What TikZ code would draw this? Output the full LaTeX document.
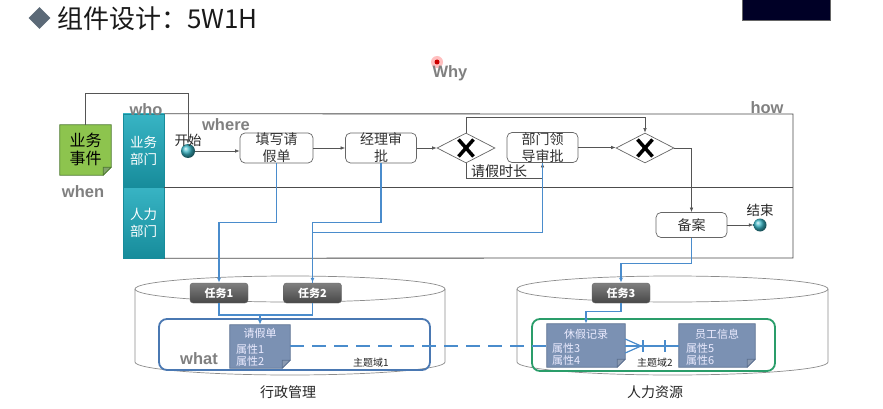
\documentclass[tikz,border=0pt]{standalone}
\usepackage{fontspec}
\setmainfont{Noto Sans CJK SC}
\newfontfamily\labfont{Liberation Sans}
\usetikzlibrary{shapes.geometric,arrows.meta,calc}
\definecolor{flowgray}{HTML}{555555}
\definecolor{bluel}{HTML}{4A8CCC}
\definecolor{docfill}{HTML}{7B91B3}
\definecolor{docdraw}{HTML}{5A6F90}
\definecolor{evfill}{HTML}{8DC44E}
\definecolor{evdraw}{HTML}{4D7A2D}
\definecolor{hdrtop}{HTML}{38B4C4}
\definecolor{hdrbot}{HTML}{178C9B}
\definecolor{domblue}{HTML}{4A78B2}
\definecolor{domgreen}{HTML}{2A9D6A}
\definecolor{titlegray}{HTML}{5B6977}
\newcommand\drawdoc[3]{%
  \filldraw[fill=#2,draw=#3,line width=0.8pt] (#1.north west) -- (#1.north east) -- ([yshift=8pt]#1.south east) -- ([xshift=-8pt]#1.south east) -- (#1.south west) -- cycle;
  \filldraw[fill=#3!70!white,draw=#3,line width=0.6pt] ([yshift=8pt]#1.south east) -- ([xshift=-8pt]#1.south east) -- ([xshift=-8pt,yshift=8pt]#1.south east) -- cycle;}
\begin{document}
\begin{tikzpicture}[x=1pt,y=-1pt,
  flow/.style={draw=flowgray, line width=0.6pt, -{Latex[length=4.5pt,width=3.5pt]}},
  bflow/.style={draw=bluel, line width=1.3pt, -{Latex[length=5pt,width=4pt]}},
  bline/.style={draw=bluel, line width=1.3pt},
  proc/.style={draw=black!60, line width=0.7pt, rounded corners=5pt, minimum width=71pt, minimum height=30pt, inner sep=0pt, align=center, font=\fontsize{14}{17}\selectfont, text=black!80, fill=white},
  gate/.style={diamond, draw=black!60, line width=0.7pt, aspect=2, minimum width=58pt, minimum height=30pt, inner sep=0pt, fill=white},
  xmark/.style={line width=3.5pt, black},
  evt/.style={circle, minimum size=14pt, inner sep=0pt, shading=ball, ball color=hdrtop},
  task/.style={rounded corners=3pt, top color=black!50, bottom color=black!72, draw=black!60, text=white, font=\fontsize{11}{11}\selectfont\bfseries, minimum width=58pt, minimum height=20pt, inner sep=0pt},
  hdr/.style={top color=hdrtop, bottom color=hdrbot, draw=hdrbot, text=white, align=center, font=\fontsize{13.5}{17}\selectfont, minimum width=41pt, inner sep=0pt},
  wlabel/.style={font=\labfont\bfseries\fontsize{16.5}{16.5}\selectfont, text=black!50},
  docnode/.style={inner sep=0pt},
  doctxt/.style={font=\fontsize{11}{11}\selectfont, text=white!92!blue, inner sep=0pt},
  lbl/.style={font=\fontsize{14}{14}\selectfont, text=black!85, inner sep=0pt},
  small/.style={font=\fontsize{10}{10}\selectfont, text=black!85, inner sep=0pt},
  cyl/.style={draw=black!45, line width=0.7pt},
  pool/.style={draw=black!70, line width=0.8pt}
]
\useasboundingbox[fill=white] (0,0) rectangle (883,409);

% title
\node[diamond, fill=titlegray, minimum width=22pt, minimum height=22pt, inner sep=0pt] (tdia) at (39.5,18) {};
\node[anchor=west, font=\fontsize{26}{26}\selectfont, text=black!90, inner sep=0pt] (title) at (57,19) {组件设计：5W1H};
\node[fill=black!85!blue, draw=black!60, minimum width=88pt, minimum height=21pt, inner sep=0pt] (overlay) at (786,10) {};

% cursor dot and Why
\fill[red!25] (437,62) circle (6pt);
\node[circle, fill=red!80!black, minimum size=5pt, inner sep=0pt] (cursor) at (437,62) {};
\node[wlabel] (why) at (450,73) {Why};

% cylinders
\draw[cyl] (290,289) ellipse [x radius=155, y radius=13];
\draw[cyl] (135,289) -- (135,362) .. controls (135,369.2) and (204.4,375) .. (290,375) .. controls (375.6,375) and (445,369.2) .. (445,362) -- (445,289);
\draw[cyl] (672.5,289) ellipse [x radius=155.5, y radius=13];
\draw[cyl] (517,289) -- (517,362) .. controls (517,369.2) and (586.6,375) .. (672.5,375) .. controls (758.4,375) and (828,369.2) .. (828,362) -- (828,289);

% domain rectangles
\node[draw=domblue, line width=1.8pt, rounded corners=8pt, minimum width=271pt, minimum height=51pt, inner sep=0pt] (dom1) at (294.5,344.5) {};
\node[draw=domgreen, line width=1.8pt, rounded corners=8pt, minimum width=243pt, minimum height=52pt, inner sep=0pt] (dom2) at (653.5,345) {};
\node[small, anchor=center] (dl1) at (371,363) {主题域1};
\node[small, anchor=center] (dl2) at (655,363) {主题域2};
\node[wlabel] (what) at (199,359) {what};
\node[lbl] (c1) at (288,392) {行政管理};
\node[lbl] (c2) at (655,392) {人力资源};

% documents
\node[docnode, minimum width=60pt, minimum height=43pt] (d1) at (260,346.5) {};
\drawdoc{d1}{docfill}{docdraw}
\node[docnode, minimum width=78pt, minimum height=43pt] (d2) at (586,345.5) {};
\drawdoc{d2}{docfill}{docdraw}
\node[docnode, minimum width=76pt, minimum height=43pt] (d3) at (717,345.5) {};
\drawdoc{d3}{docfill}{docdraw}
\node[doctxt] (d1t) at (260,333) {请假单};
\node[doctxt, anchor=west] (d1a) at (236,349) {属性1};
\node[doctxt, anchor=west] (d1b) at (236,361) {属性2};
\node[doctxt] (d2t) at (586,334) {休假记录};
\node[doctxt, anchor=west] (d2a) at (552,348) {属性3};
\node[doctxt, anchor=west] (d2b) at (552,360) {属性4};
\node[doctxt] (d3t) at (717,334) {员工信息};
\node[doctxt, anchor=west] (d3a) at (686,348) {属性5};
\node[doctxt, anchor=west] (d3b) at (686,360) {属性6};

% relations between documents
\draw[draw=bluel, line width=1.4pt, dash pattern=on 14pt off 8pt] (d1.east |- 0,346) -- (d2.west |- 0,346);
\coordinate (cf) at (641,346);
\draw[draw=bluel, line width=1.2pt] (d2.east |- 0,339) -- (cf) -- (d2.east |- 0,353);
\draw[draw=bluel, line width=1.2pt] (d2.east |- 0,346) -- (d3.west |- 0,346);
\draw[draw=bluel, line width=1.2pt] (643,340) -- (643,352) (665,340) -- (665,352);

% tasks
\node[task] (t1) at (219,293) {任务1};
\node[task] (t2) at (312.5,293) {任务2};
\node[task] (t3) at (621,293) {任务3};

% pool and lanes
\node[hdr, minimum height=73pt] (h1) at (143.5,150.5) {业务\\部门};
\node[hdr, minimum height=71pt] (h2) at (143.5,222.5) {人力\\部门};
\coordinate (pNE) at (793,114);
\coordinate (pSE) at (793,258);
\draw[pool] (h1.north east) -- (pNE) -- (pSE) -- (h2.south east);
\draw[pool] (h1.south east) -- (h1.south east -| pNE);
\node[wlabel] (who) at (146,110) {who};
\node[wlabel] (where) at (226,125) {where};
\node[wlabel] (how) at (767,108) {how};
\node[wlabel] (when) at (83,192) {when};

% business event
\node[docnode, minimum width=51pt, minimum height=50pt] (ev) at (85.5,150) {};
\drawdoc{ev}{evfill}{evdraw}
\node[align=center, font=\fontsize{16}{18}\selectfont, text=black, inner sep=0pt] (evt) at (85.5,149) {业务\\事件};

% process elements
\node[evt] (start) at (188,151) {};
\node[lbl, font=\fontsize{13.5}{13.5}\selectfont] (startl) at (188,140) {开始};
\node[proc, minimum width=73pt] (b1) at (276.5,148) {填写请\\假单};
\node[proc] (b2) at (381,148) {经理审\\批};
\node[gate] (g1) at (466,148) {};
\node[proc] (b3) at (542.5,147.5) {部门领\\导审批};
\node[gate] (g2) at (645,148) {};
\node[proc, minimum height=25pt] (b4) at (691.5,225) {备案};
\node[evt, minimum size=13pt] (end) at (760,225) {};
\node[lbl, font=\fontsize{13.5}{13.5}\selectfont] (endl) at (760,210) {结束};
\draw[xmark] ($(g1)+(-7.5,-8.5)$) -- ($(g1)+(7.5,8.5)$) ($(g1)+(7.5,-8.5)$) -- ($(g1)+(-7.5,8.5)$);
\draw[xmark] ($(g2)+(-7.5,-8.5)$) -- ($(g2)+(7.5,8.5)$) ($(g2)+(7.5,-8.5)$) -- ($(g2)+(-7.5,8.5)$);

% gray flows
\draw[flow] (ev.north) -- ++(0,-31) -| (start.north);
\draw[flow] (start.east) -- (start.east -| b1.west);
\draw[flow] (b1.east) -- (b2.west);
\draw[flow] (b2.east) -- (g1.west);
\draw[flow] (g1.north) -- ++(0,-15) -| (g2.north);
\draw[flow] (g1.south) -- ++(0,15) -| (b3.south);
\node[lbl] (cond) at (499,171) {请假时长};
\draw[flow] (b3.east) -- (b3.east -| g2.west);
\draw[flow] (g2.east) -| (b4.north);
\draw[flow] (b4.east) -- (end.west);

% blue flows
\draw[bflow] (b1.south) -- ++(0,59) -| (t1.north);
\draw[bflow] (b2.south) -- ++(0,59) -| (t2.north);
\draw[bline] (b3.south) -- ++(0,69.5) -| (t2.north);
\draw[bflow] (b4.south) -- ++(0,25.5) -| (t3.north);
\coordinate (j1) at (260,315);
\draw[bline] (t1.south) |- (j1) -| (t2.south);
\draw[bflow] (j1) -- (j1 |- d1.north);
\draw[bflow] (t3.south) -- ++(0,8) -| (d2.north);
\end{tikzpicture}
\end{document}
